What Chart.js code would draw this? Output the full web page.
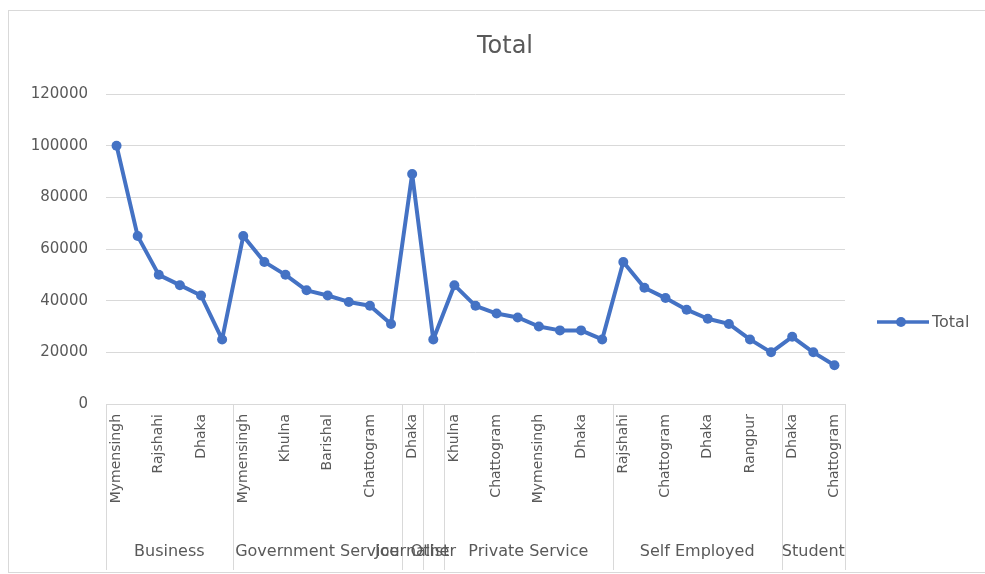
<!DOCTYPE html>
<html>
<head>
<meta charset="utf-8">
<script src="https://cdn.jsdelivr.net/npm/chart.js@4.4.1/dist/chart.umd.min.js"></script>
<style>
  html, body { margin: 0; padding: 0; background: #fff; }
  #wrap { width: 985px; height: 574px; position: relative; }
</style>
</head>
<body>
<div id="wrap"><canvas id="chart"></canvas></div>
<script>
// city per point (only every other one is printed on the axis)
const cities = [
  "Mymensingh", "Sylhet", "Rajshahi", "Khulna", "Dhaka", "Chattogram",
  "Mymensingh", "Rangpur", "Khulna", "Sylhet", "Barishal", "Rajshahi", "Chattogram", "Dhaka",
  "Dhaka",
  "Chattogram",
  "Khulna", "Rajshahi", "Chattogram", "Sylhet", "Mymensingh", "Barishal", "Dhaka", "Rangpur",
  "Rajshahi", "Mymensingh", "Chattogram", "Khulna", "Dhaka", "Sylhet", "Rangpur", "Barishal",
  "Dhaka", "Rajshahi", "Chattogram"
];
const groups = ["Business", "Government Service", "Journalist", "Other", "Private Service", "Self Employed", "Student"];
const groupSizes = [6, 8, 1, 1, 8, 8, 3];
const totals = [
  100000, 65000, 50000, 46000, 42000, 25000,
  65000, 55000, 50000, 44000, 42000, 39500, 38000, 31000,
  89000,
  25000,
  46000, 38000, 35000, 33500, 30000, 28500, 28500, 25000,
  55000, 45000, 41000, 36500, 33000, 31000, 25000, 20000,
  26000, 20000, 15000
];
const yTicks = [0, 20000, 40000, 60000, 80000, 100000, 120000];

const blue = "#4472C4";
const grey = "#595959";
const lineGrey = "#d9d9d9";
const font = "'DejaVu Sans', sans-serif";

// frame, title, legend, group labels + dividers (Excel multi-level axis)
const excelBits = {
  id: "excelBits",
  afterDraw(chart) {
    const ctx = chart.ctx;
    const x = chart.scales.x;
    const area = chart.chartArea;
    ctx.save();

    ctx.strokeStyle = lineGrey;
    ctx.lineWidth = 1;
    ctx.strokeRect(8.5, 10.5, 990, 562);

    ctx.fillStyle = grey;
    ctx.font = "24px " + font;
    ctx.textAlign = "center";
    ctx.textBaseline = "middle";
    ctx.fillText("Total", 505, 47);

    // legend
    const ly = 322;
    ctx.strokeStyle = blue;
    ctx.lineWidth = 3.5;
    ctx.beginPath();
    ctx.moveTo(877, ly);
    ctx.lineTo(929, ly);
    ctx.stroke();
    ctx.fillStyle = blue;
    ctx.beginPath();
    ctx.arc(901, ly, 5, 0, Math.PI * 2);
    ctx.fill();
    ctx.fillStyle = grey;
    ctx.font = "16px " + font;
    ctx.textAlign = "left";
    ctx.fillText("Total", 932, ly + 1);

    // group dividers and labels
    const half = (x.getPixelForTick(1) - x.getPixelForTick(0)) / 2;
    ctx.strokeStyle = lineGrey;
    ctx.lineWidth = 1;
    let start = 0;
    const edges = [x.getPixelForTick(0) - half];
    groupSizes.forEach(n => {
      start += n;
      edges.push(x.getPixelForTick(start - 1) + half);
    });
    edges.forEach(px => {
      ctx.beginPath();
      ctx.moveTo(Math.round(px) + 0.5, area.bottom);
      ctx.lineTo(Math.round(px) + 0.5, 570);
      ctx.stroke();
    });
    ctx.fillStyle = grey;
    ctx.font = "16px " + font;
    ctx.textAlign = "center";
    groups.forEach((g, i) => {
      ctx.fillText(g, (edges[i] + edges[i + 1]) / 2, 552);
    });
    ctx.restore();
  }
};

new Chart(document.getElementById("chart"), {
  type: "line",
  data: {
    labels: cities,
    datasets: [{
      label: "Total",
      data: totals,
      borderColor: blue,
      backgroundColor: blue,
      borderWidth: 4,
      borderJoinStyle: "round",
      borderCapStyle: "round",
      pointRadius: 5,
      pointBorderWidth: 0,
      pointBackgroundColor: blue,
      tension: 0,
    }],
  },
  options: {
    responsive: true,
    maintainAspectRatio: false,
    animation: false,
    layout: { padding: { top: 94, left: 0, right: 140, bottom: 0 } },
    plugins: {
      legend: { display: false },
      title: { display: false },
      tooltip: { enabled: false },
    },
    scales: {
      x: {
        offset: true,
        grid: { display: false },
        border: { display: true, color: lineGrey },
        afterFit(scale) { scale.height = 170; },
        ticks: {
          autoSkip: false,
          minRotation: 90,
          maxRotation: 90,
          padding: 2,
          color: grey,
          font: { size: 14, family: font },
          callback: (v, i) => (i % 2 === 0 ? cities[i] : ""),
        },
      },
      y: {
        min: 0,
        max: 120000,
        afterBuildTicks(scale) { scale.ticks = yTicks.map(v => ({ value: v })); },
        afterFit(scale) { scale.width = 106; },
        grid: { color: lineGrey, drawTicks: false },
        border: { display: false },
        ticks: {
          padding: 18,
          color: grey,
          font: { size: 15, family: font },
          callback: v => String(v),
        },
      },
    },
  },
  plugins: [excelBits],
});
</script>
</body>
</html>
